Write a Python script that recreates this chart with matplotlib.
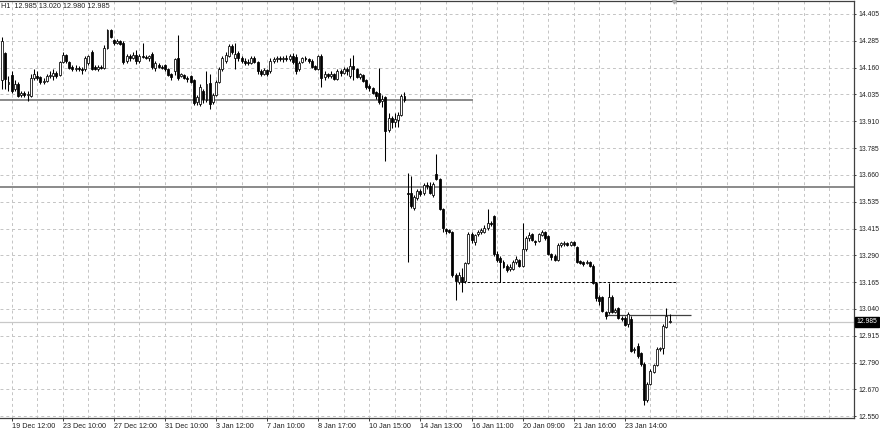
import numpy as np
import matplotlib
matplotlib.use("Agg")
import matplotlib.pyplot as plt
from matplotlib.transforms import blended_transform_factory

plt.rcParams['font.family'] = ['Liberation Sans', 'DejaVu Sans']

# H1 bars, oldest first
opens = [
    14.10, 14.225, 14.08, 14.125, 14.06, 14.08, 14.03, 14.04, 14.03, 14.025,
    14.11, 14.12, 14.115, 14.09, 14.095, 14.12, 14.12, 14.135, 14.125, 14.185,
    14.215, 14.185, 14.16, 14.15, 14.155, 14.15, 14.15, 14.18, 14.23, 14.16,
    14.15, 14.16, 14.155, 14.25, 14.33, 14.285, 14.27, 14.28, 14.27, 14.19,
    14.21, 14.20, 14.215, 14.19, 14.21, 14.205, 14.20, 14.22, 14.155, 14.17,
    14.16, 14.17, 14.15, 14.13, 14.14, 14.20, 14.12, 14.125, 14.11, 14.12,
    14.10, 14.00, 13.99, 14.05, 14.01, 14.085, 14.00, 14.03, 14.09, 14.15,
    14.19, 14.21, 14.255, 14.20, 14.225, 14.20, 14.19, 14.185, 14.18, 14.20,
    14.185, 14.14, 14.13, 14.145, 14.14, 14.19, 14.195, 14.20, 14.195, 14.20,
    14.195, 14.21, 14.205, 14.15, 14.185, 14.20, 14.195, 14.19, 14.165, 14.15,
    14.21, 14.115, 14.13, 14.12, 14.13, 14.105, 14.14, 14.135, 14.15, 14.12,
    14.165, 14.15, 14.115, 14.125, 14.10, 14.075, 14.065, 14.045, 14.04, 14.005,
    14.02, 13.87, 13.925, 13.905, 13.915, 13.94, 14.025, 13.58, 13.58, 13.51,
    13.555, 13.59, 13.58, 13.615, 13.61, 13.57, 13.665, 13.645, 13.507, 13.415,
    13.41, 13.40, 13.20, 13.17, 13.19, 13.175, 13.255, 13.39, 13.355, 13.39,
    13.40, 13.40, 13.42, 13.44, 13.475, 13.30, 13.28, 13.26, 13.245, 13.23,
    13.23, 13.26, 13.27, 13.245, 13.32, 13.37, 13.39, 13.36, 13.36, 13.385,
    13.40, 13.38, 13.30, 13.29, 13.27, 13.34, 13.345, 13.35, 13.34, 13.355,
    13.33, 13.265, 13.26, 13.255, 13.26, 13.245, 13.165, 13.10, 13.10, 13.03,
    13.03, 13.10, 13.03, 13.05, 13.005, 13.005, 12.975, 13.0, 12.855, 12.875,
    12.84, 12.79, 12.625, 12.70, 12.755, 12.785, 12.86, 12.865, 12.96, 12.985,
]
highs = [
    14.30, 14.23, 14.12, 14.14, 14.10, 14.09, 14.05, 14.05, 14.05, 14.13,
    14.15, 14.14, 14.12, 14.11, 14.13, 14.14, 14.15, 14.14, 14.19, 14.23,
    14.22, 14.19, 14.17, 14.17, 14.165, 14.16, 14.21, 14.215, 14.24, 14.17,
    14.17, 14.17, 14.26, 14.335, 14.335, 14.29, 14.29, 14.285, 14.28, 14.22,
    14.22, 14.23, 14.24, 14.22, 14.27, 14.215, 14.215, 14.23, 14.19, 14.18,
    14.17, 14.175, 14.155, 14.135, 14.20, 14.31, 14.135, 14.13, 14.12, 14.125,
    14.105, 14.03, 14.08, 14.06, 14.14, 14.13, 14.04, 14.10, 14.16, 14.21,
    14.23, 14.265, 14.265, 14.27, 14.235, 14.21, 14.20, 14.195, 14.21, 14.21,
    14.19, 14.15, 14.155, 14.15, 14.20, 14.205, 14.21, 14.21, 14.21, 14.215,
    14.22, 14.225, 14.22, 14.19, 14.205, 14.21, 14.20, 14.195, 14.17, 14.215,
    14.22, 14.14, 14.135, 14.14, 14.135, 14.15, 14.15, 14.16, 14.16, 14.20,
    14.215, 14.155, 14.135, 14.13, 14.105, 14.08, 14.07, 14.05, 14.155, 14.03,
    14.025, 13.95, 13.935, 13.95, 13.955, 14.035, 14.045, 13.67, 13.66, 13.57,
    13.60, 13.60, 13.625, 13.63, 13.63, 13.63, 13.76, 13.65, 13.51, 13.42,
    13.415, 13.405, 13.21, 13.215, 13.235, 13.26, 13.40, 13.40, 13.39, 13.41,
    13.42, 13.43, 13.505, 13.45, 13.48, 13.31, 13.29, 13.27, 13.25, 13.25,
    13.27, 13.29, 13.275, 13.44, 13.38, 13.40, 13.395, 13.365, 13.395, 13.41,
    13.405, 13.385, 13.305, 13.30, 13.35, 13.355, 13.36, 13.355, 13.36, 13.36,
    13.335, 13.27, 13.265, 13.27, 13.265, 13.25, 13.17, 13.11, 13.105, 13.035,
    13.165, 13.11, 13.05, 13.055, 13.01, 13.01, 13.03, 13.01, 12.87, 12.89,
    12.845, 12.80, 12.71, 12.77, 12.79, 12.87, 12.87, 12.975, 13.05, 13.02,
]
lows = [
    14.06, 14.06, 14.05, 14.04, 14.05, 14.02, 14.02, 14.02, 14.005, 14.02,
    14.10, 14.10, 14.08, 14.08, 14.09, 14.11, 14.10, 14.11, 14.12, 14.18,
    14.18, 14.15, 14.14, 14.14, 14.14, 14.13, 14.14, 14.17, 14.145, 14.145,
    14.14, 14.15, 14.15, 14.245, 14.295, 14.26, 14.265, 14.26, 14.175, 14.18,
    14.19, 14.195, 14.175, 14.18, 14.20, 14.195, 14.19, 14.15, 14.14, 14.155,
    14.15, 14.14, 14.12, 14.10, 14.125, 14.10, 14.115, 14.105, 14.09, 14.085,
    13.985, 13.985, 13.98, 13.995, 14.00, 13.965, 13.99, 14.025, 14.085, 14.14,
    14.18, 14.205, 14.22, 14.15, 14.19, 14.18, 14.17, 14.17, 14.175, 14.18,
    14.13, 14.12, 14.125, 14.12, 14.135, 14.18, 14.185, 14.19, 14.185, 14.19,
    14.19, 14.175, 14.13, 14.14, 14.18, 14.19, 14.18, 14.155, 14.145, 14.145,
    14.07, 14.10, 14.11, 14.11, 14.10, 14.10, 14.12, 14.13, 14.125, 14.11,
    14.10, 14.11, 14.105, 14.09, 14.06, 14.05, 14.035, 14.015, 13.99, 13.975,
    13.727, 13.86, 13.88, 13.885, 13.885, 13.935, 14.00, 13.26, 13.51, 13.50,
    13.545, 13.565, 13.57, 13.60, 13.575, 13.56, 13.64, 13.50, 13.40, 13.39,
    13.395, 13.19, 13.085, 13.16, 13.125, 13.165, 13.25, 13.35, 13.34, 13.38,
    13.39, 13.395, 13.41, 13.425, 13.29, 13.26, 13.17, 13.235, 13.215, 13.22,
    13.225, 13.25, 13.24, 13.24, 13.31, 13.36, 13.36, 13.34, 13.355, 13.38,
    13.365, 13.295, 13.27, 13.265, 13.265, 13.33, 13.335, 13.335, 13.335, 13.335,
    13.255, 13.25, 13.245, 13.25, 13.24, 13.16, 13.08, 13.065, 13.03, 13.00,
    13.02, 13.025, 13.025, 13.0, 12.99, 12.965, 12.96, 12.845, 12.84, 12.82,
    12.78, 12.60, 12.615, 12.695, 12.75, 12.78, 12.85, 12.835, 12.955, 12.98,
]
closes = [
    14.28, 14.105, 14.09, 14.05, 14.08, 14.025, 14.04, 14.03, 14.035, 14.11,
    14.13, 14.11, 14.09, 14.095, 14.12, 14.125, 14.135, 14.12, 14.185, 14.215,
    14.19, 14.155, 14.15, 14.155, 14.15, 14.145, 14.20, 14.21, 14.15, 14.15,
    14.16, 14.155, 14.25, 14.33, 14.30, 14.27, 14.28, 14.265, 14.185, 14.21,
    14.20, 14.215, 14.19, 14.21, 14.205, 14.20, 14.21, 14.16, 14.18, 14.16,
    14.155, 14.15, 14.125, 14.115, 14.195, 14.11, 14.13, 14.11, 14.105, 14.09,
    13.995, 14.02, 14.07, 14.015, 14.08, 13.99, 14.03, 14.09, 14.15, 14.20,
    14.215, 14.255, 14.23, 14.22, 14.20, 14.19, 14.18, 14.18, 14.20, 14.185,
    14.14, 14.13, 14.145, 14.13, 14.19, 14.195, 14.20, 14.195, 14.20, 14.195,
    14.21, 14.185, 14.14, 14.18, 14.20, 14.195, 14.19, 14.16, 14.15, 14.21,
    14.11, 14.13, 14.12, 14.13, 14.105, 14.14, 14.135, 14.15, 14.14, 14.165,
    14.15, 14.115, 14.13, 14.095, 14.07, 14.065, 14.04, 14.025, 14.00, 14.015,
    13.865, 13.925, 13.905, 13.92, 13.94, 14.025, 14.01, 13.575, 13.52, 13.56,
    13.59, 13.575, 13.615, 13.61, 13.58, 13.62, 13.645, 13.507, 13.416, 13.405,
    13.40, 13.20, 13.175, 13.20, 13.17, 13.255, 13.39, 13.365, 13.385, 13.40,
    13.41, 13.42, 13.44, 13.435, 13.30, 13.27, 13.26, 13.24, 13.225, 13.24,
    13.26, 13.275, 13.245, 13.32, 13.37, 13.385, 13.365, 13.355, 13.39, 13.40,
    13.37, 13.30, 13.285, 13.27, 13.34, 13.35, 13.35, 13.34, 13.355, 13.34,
    13.26, 13.255, 13.25, 13.26, 13.245, 13.165, 13.095, 13.08, 13.035, 13.01,
    13.10, 13.03, 13.04, 13.005, 13.0, 12.97, 13.02, 12.85, 12.86, 12.83,
    12.79, 12.625, 12.70, 12.76, 12.785, 12.86, 12.865, 12.965, 13.01, 12.985,
]

price_ticks = np.linspace(14.405, 12.550, 16)
price_labels = ['14.405', '14.285', '14.160', '14.035', '13.910', '13.785',
                '13.660', '13.535', '13.415', '13.290', '13.165', '13.040',
                '12.915', '12.790', '12.670', '12.550']
time_labels = ['19 Dec 12:00', '23 Dec 10:00', '27 Dec 12:00', '31 Dec 10:00',
               '3 Jan 12:00', '7 Jan 10:00', '8 Jan 17:00', '10 Jan 15:00',
               '14 Jan 13:00', '16 Jan 11:00', '20 Jan 09:00', '21 Jan 16:00',
               '23 Jan 14:00']
first_label_bar = 3
bars_per_label = 16

# chart objects: price, from bar, to bar
trend_upper = (14.010, -1, 147.4)
trend_dashed = (13.168, 144.3, 211.3)
trend_high = (13.016, 189.3, 215.6)
level_full = 13.609

o = np.array(opens)
h = np.array(highs)
l = np.array(lows)
c = np.array(closes)
x = np.arange(len(o))

W, H = 880, 433
fig = plt.figure(figsize=(W / 100, H / 100), dpi=100)
fig.patch.set_facecolor('white')
ax = fig.add_axes([0, 1 - 418 / H, 853.5 / W, 417.5 / H])

ax.set_xlim(-0.66, 266.6)
ax.set_ylim(12.542, 14.467)

# grid
grid_kw = dict(color='#c4c4c4', lw=0.7, dashes=(3, 3), zorder=0)
for gx in np.arange(first_label_bar, 267, bars_per_label / 2):
    ax.axvline(gx, **grid_kw)
for gy in price_ticks:
    ax.axhline(gy, **grid_kw)

# objects
ax.axhline(level_full, color='#8a8a8a', lw=1.4, zorder=1)
ax.hlines(trend_upper[0], trend_upper[1], trend_upper[2], color='#8a8a8a', lw=1.4, zorder=1)
ax.hlines(trend_dashed[0], trend_dashed[1], trend_dashed[2], color='black', lw=0.7,
          linestyles=(0, (2.5, 2)), zorder=1)
ax.hlines(trend_high[0], trend_high[1], trend_high[2], color='#404040', lw=0.9, zorder=1)
ax.axhline(c[-1], color='#c8c8c8', lw=0.9, zorder=1)

# candles
up = c >= o
ax.vlines(x, l, h, color='black', lw=0.75, zorder=3)
body_lo = np.minimum(o, c)
body_h = np.maximum(np.abs(c - o), 0.002)
ax.bar(x[up], body_h[up], bottom=body_lo[up], width=0.62, color='white',
       edgecolor='black', linewidth=0.55, zorder=4)
ax.bar(x[~up], body_h[~up], bottom=body_lo[~up], width=0.62, color='black',
       edgecolor='black', linewidth=0.55, zorder=4)

# shift marker at the top
ax.plot([len(o) + 0.4], [ax.get_ylim()[1]], marker='v', ms=3.5, color='#a8a8a8',
        clip_on=False, zorder=6)

# axes styling
ax.spines['left'].set_visible(False)
for side in ['top', 'right', 'bottom']:
    ax.spines[side].set_color('#404040')
    ax.spines[side].set_linewidth(0.9)

ax.yaxis.tick_right()
ax.set_yticks(price_ticks)
ax.set_yticklabels(price_labels)
ax.tick_params(axis='y', direction='out', length=1.5, width=0.6, pad=2.0,
               labelsize=4.9, colors='#202020')

xt = [first_label_bar + bars_per_label * k for k in range(len(time_labels))]
ax.set_xticks(xt)
ax.set_xticklabels(time_labels)
ax.tick_params(axis='x', direction='out', length=2.5, width=0.6, pad=1.2,
               labelsize=5.2, colors='#202020')
for lab in ax.get_xticklabels():
    lab.set_ha('left')

# current price box on the price scale
trans = blended_transform_factory(ax.transAxes, ax.transData)
ax.text(1.0 + 3 / 853.5, c[-1], f'{c[-1]:.3f}', transform=trans, ha='left',
        va='center', fontsize=4.9, color='white', clip_on=False, zorder=7,
        bbox=dict(boxstyle='square,pad=0.2', fc='black', ec='black'))

# header text
fig.text(1 / W, 1 - 6.5 / H,
         f'H1  {o[-1]:.3f} {h[-1]:.3f} {l[-1]:.3f} {c[-1]:.3f}',
         ha='left', va='center', fontsize=5.2, color='#202020')

fig.savefig('out.png', dpi=100, facecolor='white')
